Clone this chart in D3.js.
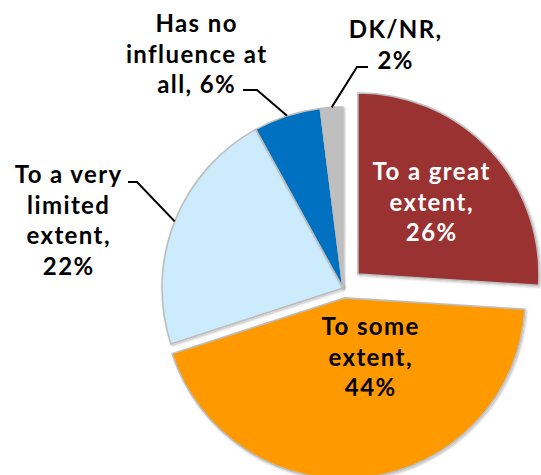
<!DOCTYPE html>
<html>
<head>
<meta charset="utf-8">
<script src="https://cdn.jsdelivr.net/npm/d3@7"></script>
<style>
  html, body { margin: 0; padding: 0; background: #fff; }
  svg { display: block; }
  text { font-family: "Lato", "Open Sans", sans-serif; font-weight: 700; }
</style>
</head>
<body>
<svg id="chart" width="541" height="475"></svg>
<script>
// Survey answer shares (percent), clockwise from 12 o'clock
const categories = ["To a great extent", "To some extent", "To a very limited extent", "Has no influence at all", "DK/NR"];
const values = [26, 44, 22, 6, 2];
const labelLines = [
  ["To a great", "extent,", "26%"],
  ["To some", "extent,", "44%"],
  ["To a very", "limited", "extent,", "22%"],
  ["Has no", "influence at", "all, 6%"],
  ["DK/NR,", "2%"]
];
const colors = ["#9A3032", "#FF9900", "#CCEBFC", "#0070C0", "#BFBFBF"];
const textColors = ["#ffffff", "#000000", "#000000", "#000000", "#000000"];

// Layout
const cx = 343, cy = 288, radius = 181;
const explodeBy = [20.5, 10, 0, 0, 0];
const fontSize = 24, letterSpacing = 1.4, lineGap = 30.5;
// label anchor: [centre x, first baseline y]
const labelAnchor = [[431, 180], [370, 335], [68, 183], [196, 32], [395, 38]];
// leader elbows: [start of horizontal tick x, elbow x, elbow y] (null = label sits inside slice)
const leaders = [null, null, [128, 137, 182], [243, 257, 90], [368, 357, 67]];

const svg = d3.select("#chart");

const pie = d3.pie().sort(null).value(d => d).startAngle(0).endAngle(2 * Math.PI);
const arcs = pie(values);
const arc = d3.arc().innerRadius(0).outerRadius(radius);

const defs = svg.append("defs");
const shadow = defs.append("filter").attr("id", "shadow")
  .attr("x", "-10%").attr("y", "-10%").attr("width", "120%").attr("height", "120%");
shadow.append("feDropShadow").attr("dx", 1.2).attr("dy", 1.2).attr("stdDeviation", 0.8)
  .attr("flood-color", "#000").attr("flood-opacity", 0.25);

const offsetOf = (d, i) => {
  const mid = (d.startAngle + d.endAngle) / 2;
  return [Math.sin(mid) * explodeBy[i], -Math.cos(mid) * explodeBy[i]];
};

const g = svg.append("g").attr("transform", `translate(${cx},${cy})`);

g.selectAll("path.slice")
  .data(arcs)
  .join("path")
  .attr("class", "slice")
  .attr("d", arc)
  .attr("transform", (d, i) => { const o = offsetOf(d, i); return `translate(${o[0]},${o[1]})`; })
  .attr("fill", (d, i) => colors[i])
  .attr("stroke", "#BEBEBE")
  .attr("stroke-width", 1.6)
  .attr("stroke-linejoin", "round")
  .attr("filter", "url(#shadow)");

// leader lines from the label to the slice rim at its mid angle
arcs.forEach((d, i) => {
  const l = leaders[i];
  if (!l) return;
  const mid = (d.startAngle + d.endAngle) / 2;
  const o = offsetOf(d, i);
  const ex = cx + o[0] + Math.sin(mid) * radius;
  const ey = cy + o[1] - Math.cos(mid) * radius;
  svg.append("polyline")
    .attr("points", [[l[0], l[2]], [l[1], l[2]], [ex, ey]].map(p => p.join(",")).join(" "))
    .attr("fill", "none")
    .attr("stroke", "#000")
    .attr("stroke-width", 2);
});

// labels
labelLines.forEach((lines, i) => {
  const t = svg.append("text")
    .attr("text-anchor", "middle")
    .attr("font-size", fontSize)
    .attr("letter-spacing", letterSpacing)
    .attr("fill", textColors[i]);
  lines.forEach((s, k) => {
    t.append("tspan")
      .attr("x", labelAnchor[i][0] + letterSpacing / 2)
      .attr("y", labelAnchor[i][1] + k * lineGap)
      .text(s);
  });
});
</script>
</body>
</html>
